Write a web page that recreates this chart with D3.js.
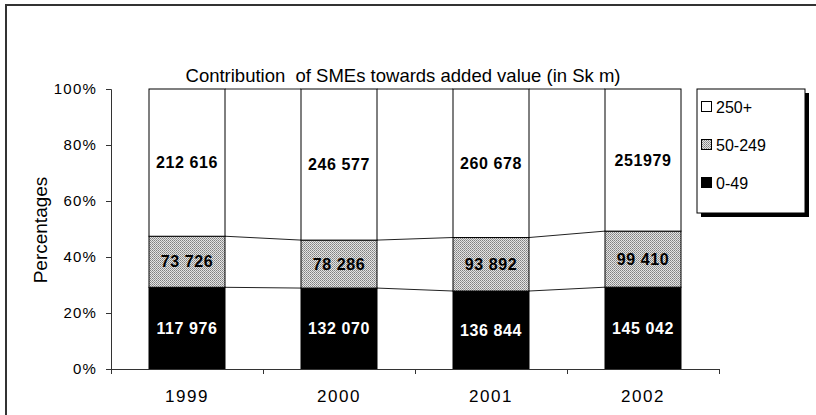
<!DOCTYPE html>
<html>
<head>
<meta charset="utf-8">
<script src="https://cdn.jsdelivr.net/npm/d3@7"></script>
<style>
body { margin: 0; background: #fff; }
svg { font-family: "Liberation Sans", Arial, sans-serif; }
.axis path, .axis line { stroke: #333; }
.axis text { font-size: 15px; fill: #000; letter-spacing: 1.2px; }
</style>
</head>
<body>
<svg width="816" height="415"></svg>
<script>
var years = ["1999", "2000", "2001", "2002"];
var seriesNames = ["0-49", "50-249", "250+"];
var small = [117976, 132070, 136844, 145042];
var medium = [73726, 78286, 93892, 99410];
var large = [212616, 246577, 260678, 251979];
// labels as printed on the chart
var smallLabels = ["117 976", "132 070", "136 844", "145 042"];
var mediumLabels = ["73 726", "78 286", "93 892", "99 410"];
var largeLabels = ["212 616", "246 577", "260 678", "251979"];
var yTicks = [0, 0.2, 0.4, 0.6, 0.8, 1];

var svg = d3.select("svg");

// outer frame, cut by the window on right and bottom
svg.append("rect")
    .attr("x", 6).attr("y", 5)
    .attr("width", 830).attr("height", 430)
    .attr("fill", "none").attr("stroke", "#333").attr("stroke-width", 2);

var defs = svg.append("defs");
var pat = defs.append("pattern")
    .attr("id", "dots")
    .attr("width", 2).attr("height", 2)
    .attr("patternUnits", "userSpaceOnUse");
pat.append("rect").attr("width", 2).attr("height", 2).attr("fill", "#e4e4e4");
pat.append("rect").attr("width", 1).attr("height", 1).attr("fill", "#808080");
pat.append("rect").attr("x", 1).attr("y", 1).attr("width", 1).attr("height", 1).attr("fill", "#9a9a9a");

var pLeft = 111, pRight = 719, pTop = 89, pBottom = 369;

var x = d3.scaleBand()
    .domain(years)
    .range([pLeft, pRight])
    .paddingInner(0.5)
    .paddingOuter(0.25);

var xb = d3.scaleLinear().domain([0, years.length]).range([pLeft, pRight]);

var y = d3.scaleLinear().domain([0, 1]).range([pBottom, pTop]);

var data = years.map(function(yr, i) {
  var tot = small[i] + medium[i] + large[i];
  var a = small[i] / tot, b = medium[i] / tot;
  return {
    year: yr,
    segs: [
      {s: 0, e: a, fill: "#000", color: "#fff", label: smallLabels[i]},
      {s: a, e: a + b, fill: "url(#dots)", color: "#000", label: mediumLabels[i]},
      {s: a + b, e: 1, fill: "#fff", color: "#000", label: largeLabels[i]}
    ]
  };
});

// series lines between bars
var g = svg.append("g");
for (var i = 0; i < data.length - 1; i++) {
  [1, 2, 3].forEach(function(k) {
    var v0 = k < 3 ? data[i].segs[k].s : 1;
    var v1 = k < 3 ? data[i + 1].segs[k].s : 1;
    g.append("line")
        .attr("x1", x(data[i].year) + x.bandwidth())
        .attr("x2", x(data[i + 1].year))
        .attr("y1", y(v0)).attr("y2", y(v1))
        .attr("stroke", "#222").attr("stroke-width", 1);
  });
}

var bars = g.selectAll(".bar").data(data).enter().append("g")
    .attr("class", "bar");

bars.selectAll("rect").data(function(d) { return d.segs.map(function(s) { return {yr: d.year, s: s}; }); })
  .enter().append("rect")
    .attr("x", function(d) { return x(d.yr); })
    .attr("width", x.bandwidth())
    .attr("y", function(d) { return y(d.s.e); })
    .attr("height", function(d) { return y(d.s.s) - y(d.s.e); })
    .attr("fill", function(d) { return d.s.fill; })
    .attr("stroke", "#000").attr("stroke-width", 1);

bars.selectAll("text").data(function(d) { return d.segs.map(function(s) { return {yr: d.year, s: s}; }); })
  .enter().append("text")
    .attr("x", function(d) { return x(d.yr) + x.bandwidth() / 2; })
    .attr("y", function(d) { return y((d.s.s + d.s.e) / 2); })
    .attr("dy", "0.35em")
    .attr("text-anchor", "middle")
    .attr("font-size", 16).attr("font-weight", "bold")
    .attr("letter-spacing", 0.6)
    .attr("fill", function(d) { return d.s.color; })
    .text(function(d) { return d.s.label; });

// axes
svg.append("g")
    .attr("class", "axis")
    .attr("transform", "translate(" + pLeft + ",0)")
    .call(d3.axisLeft(y).tickValues(yTicks).tickFormat(d3.format(".0%")).tickSizeOuter(0).tickSize(5).tickPadding(9));

svg.append("g")
    .attr("class", "axis")
    .attr("transform", "translate(0," + pBottom + ")")
    .call(d3.axisBottom(xb).tickValues(d3.range(years.length + 1)).tickFormat("").tickSizeOuter(0).tickSize(5));

svg.append("g").selectAll("text").data(years).enter().append("text")
    .attr("x", function(d) { return x(d) + x.bandwidth() / 2; })
    .attr("y", 402)
    .attr("text-anchor", "middle")
    .attr("font-size", 17)
    .attr("letter-spacing", 1.5)
    .text(function(d) { return d; });

// titles
svg.append("text")
    .attr("x", 403).attr("y", 82)
    .attr("text-anchor", "middle")
    .attr("font-size", 18.5)
    .style("white-space", "pre")
    .text("Contribution  of SMEs towards added value (in Sk m)");

svg.append("text")
    .attr("transform", "translate(47,230) rotate(-90)")
    .attr("text-anchor", "middle")
    .attr("font-size", 19)
    .text("Percentages");

// legend
var lg = svg.append("g");
lg.append("rect").attr("x", 701).attr("y", 93).attr("width", 108).attr("height", 124).attr("fill", "#000");
lg.append("rect").attr("x", 697).attr("y", 89).attr("width", 108).attr("height", 124)
    .attr("fill", "#fff").attr("stroke", "#000").attr("stroke-width", 1);
var legFills = ["#fff", "url(#dots)", "#000"];
var legNames = seriesNames.slice().reverse();
var legY = d3.scalePoint().domain(legNames).range([107, 183]);
legNames.forEach(function(n, i) {
  lg.append("rect").attr("x", 701.5).attr("y", legY(n) - 5.5).attr("width", 10).attr("height", 10)
      .attr("fill", legFills[i]).attr("stroke", "#000");
  lg.append("text").attr("x", 716).attr("y", legY(n)).attr("dy", "0.35em")
      .attr("font-size", 16).text(n);
});
</script>
</body>
</html>
